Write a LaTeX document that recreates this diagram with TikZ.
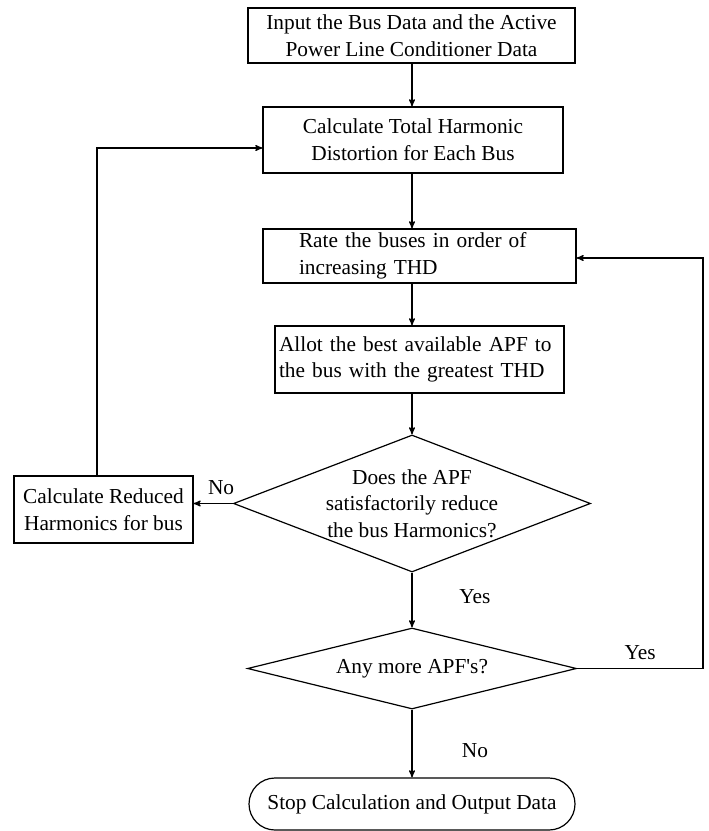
\documentclass[tikz,border=0pt]{standalone}
\usepackage{fontspec}
\setmainfont{Liberation Serif}
\usepackage{tikz}
\usetikzlibrary{arrows,shapes}
\tikzstyle{answer}=[inner sep=2pt, font=\fontsize{16}{20}\selectfont]
\tikzset{
  flownode/.style = {draw=black, line width=0.9pt, inner sep=0pt,
    font=\fontsize{16}{20}\selectfont},
  procbox/.style = {flownode, rectangle, align=center},
  leftbox/.style = {flownode, rectangle, align=left, inner ysep=0pt},
  decision/.style = {flownode, diamond, align=center},
  stopbox/.style = {flownode, rounded rectangle, rounded rectangle arc length=180},% end of the chart
}
\begin{document}
\begin{tikzpicture}[->,>=stealth',x=0.75pt,y=-0.75pt,line width=0.9pt]
\useasboundingbox (0,0) rectangle (709,831);
\node [procbox, minimum width=245.25pt, minimum height=41.25pt] (input) at (411.5,35.5)
  {Input the Bus Data and the Active\\Power Line Conditioner Data};
\node [procbox, minimum width=225pt, minimum height=49.5pt] (thd) at (413,140)
  {Calculate Total Harmonic\\Distortion for Each Bus};
\node [leftbox, text width=180.75pt, inner xsep=27pt, minimum height=40.5pt] (rate) at (419.5,256)
  {Rate the buses in order of\\increasing THD};
\node [leftbox, text width=210.75pt, inner xsep=3pt, minimum height=50.25pt] (allot) at (419.5,359.5)
  {Allot the best available APF to\\the bus with the greatest THD};
\node [decision, aspect=2.6, minimum width=267.75pt, minimum height=102.75pt] (check) at (412,503.5)
  {Does the APF\\satisfactorily reduce\\the bus Harmonics?};
\node [procbox, minimum width=134.25pt, minimum height=50.25pt] (reduce) at (103.5,509.5)
  {Calculate Reduced\\Harmonics for bus};
\node [decision, aspect=4.06, minimum width=246.75pt, minimum height=60.75pt] (more) at (412,668.5)
  {Any more APF\textquotesingle s?};
\node [stopbox, minimum width=244.5pt, minimum height=39pt] (stop) at (412,804)
  {Stop Calculation and Output Data};

% bends of the two loops
\coordinate (col) at (412,0);
\coordinate (loopL) at (97,148);
\coordinate (loopR) at (703,258);

\draw (input.south -| col) -- (thd.north -| col);
\draw (thd.south -| col) -- (rate.north -| col);
\draw (rate.south -| col) -- (allot.north -| col);
\draw (allot.south -| col) -- (check.north);
\draw (check.west) -- node [answer, pos=0.3, above=4pt] {No} (reduce.east |- check.west);
\draw (reduce.north -| loopL) |- (thd.west |- loopL);
\draw (check.south) -- node [answer, pos=0.43, right=33pt] {Yes} (more.north);
\draw (more.east) -| node [answer, pos=0.25, above=4pt] {Yes} (loopR) -- (rate.east |- loopR);
\draw (more.south) -- node [answer, pos=0.6, right=35pt] {No} (stop.north);
\end{tikzpicture}
\end{document}
